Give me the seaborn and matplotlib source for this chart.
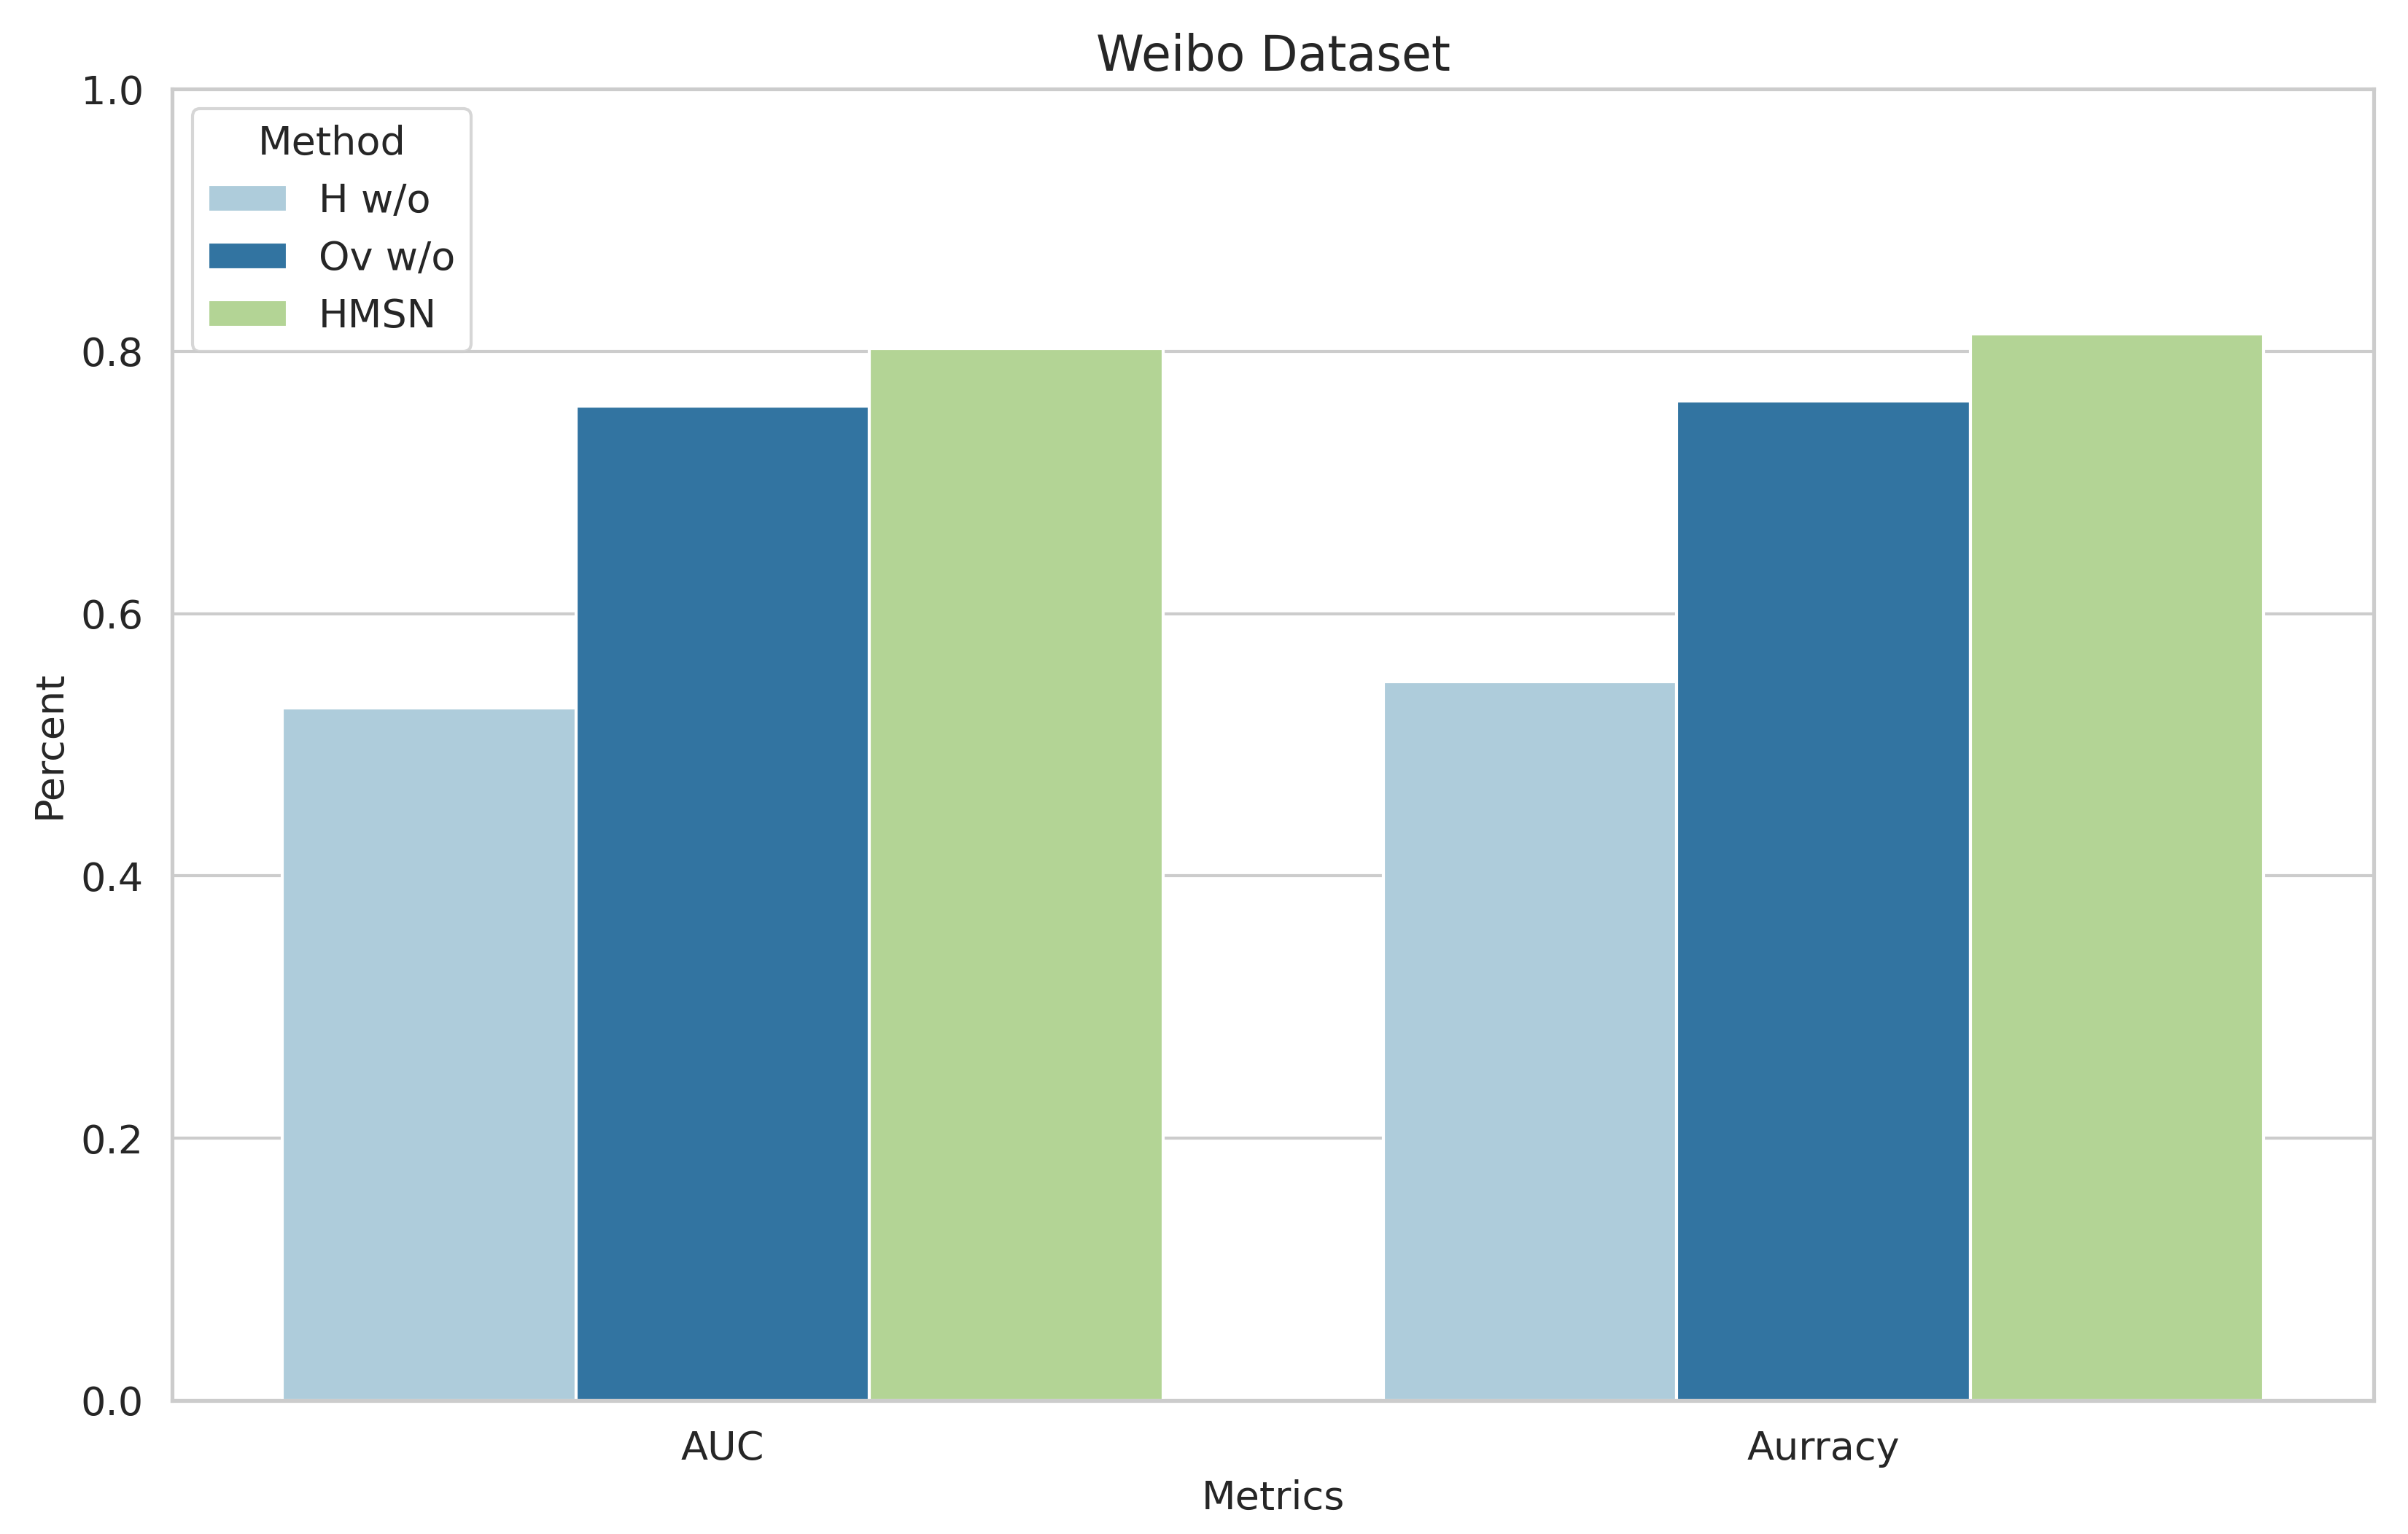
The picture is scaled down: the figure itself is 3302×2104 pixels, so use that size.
import matplotlib
matplotlib.use("Agg")
import matplotlib.pyplot as plt
import seaborn as sns
import pandas as pd

metrics = ["AUC", "Aurracy"]
methods = ["H w/o", "Ov w/o", "HMSN"]
h_wo = [0.528, 0.548]
ov_wo = [0.758, 0.762]
hmsn = [0.802, 0.813]

sns.set_theme(style="whitegrid")

df = pd.DataFrame({
    "Metrics": metrics * 3,
    "Method": [methods[0]] * 2 + [methods[1]] * 2 + [methods[2]] * 2,
    "Percent": h_wo + ov_wo + hmsn,
})

fig, ax = plt.subplots(figsize=(3302 / 300, 2104 / 300), dpi=300)
sns.barplot(data=df, x="Metrics", y="Percent", hue="Method", palette="Paired", ax=ax)
ax.set_ylim(0, 1)
ax.set_title("Weibo Dataset", fontsize=16)
ax.set_xlabel("Metrics", fontsize=13)
ax.set_ylabel("Percent", fontsize=13)
ax.tick_params(labelsize=13)
ax.legend(title="Method", loc="upper left", fontsize=13, title_fontsize=13)
fig.subplots_adjust(left=0.0716, right=0.9858, top=0.942, bottom=0.087)
fig.savefig("out.png", dpi=300)
